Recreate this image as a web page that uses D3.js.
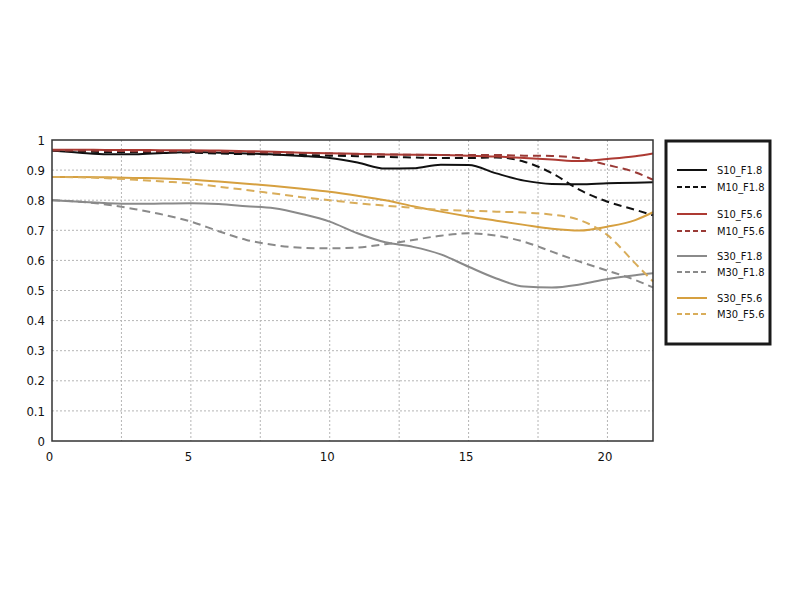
<!DOCTYPE html>
<html>
<head>
<meta charset="utf-8">
<script src="https://cdn.jsdelivr.net/npm/d3@7"></script>
<style>
    body { margin: 0; background: #fff; }
    svg text { font-family: "Liberation Sans Narrow", "DejaVu Sans Condensed", Roboto, sans-serif; fill: #111; }
</style>
</head>
<body>
<div id="chart-area"></div>
<script>
// sample positions (mm from centre)
const xs = [0, 1, 2, 3, 4, 5, 6, 7, 8, 9, 10, 11, 12, 13, 14, 15, 16, 17, 18, 19, 20, 21, 21.64];

const s10f18 = [0.965, 0.958, 0.953, 0.953, 0.957, 0.960, 0.958, 0.955, 0.952, 0.947, 0.940, 0.925, 0.905, 0.906, 0.918, 0.917, 0.889, 0.865, 0.854, 0.853, 0.856, 0.858, 0.860];
const m10f18 = [0.965, 0.962, 0.960, 0.960, 0.960, 0.958, 0.955, 0.953, 0.952, 0.950, 0.948, 0.946, 0.944, 0.942, 0.940, 0.940, 0.942, 0.928, 0.890, 0.834, 0.795, 0.768, 0.750];
const s10f56 = [0.968, 0.968, 0.967, 0.967, 0.966, 0.966, 0.965, 0.963, 0.961, 0.958, 0.956, 0.954, 0.952, 0.951, 0.950, 0.948, 0.945, 0.940, 0.935, 0.930, 0.937, 0.946, 0.955];
const m10f56 = [0.965, 0.965, 0.964, 0.963, 0.963, 0.962, 0.961, 0.960, 0.958, 0.957, 0.955, 0.953, 0.952, 0.951, 0.950, 0.950, 0.950, 0.948, 0.947, 0.939, 0.917, 0.893, 0.868];
const s30f18 = [0.800, 0.795, 0.790, 0.788, 0.789, 0.790, 0.787, 0.780, 0.773, 0.754, 0.729, 0.690, 0.660, 0.645, 0.620, 0.579, 0.540, 0.513, 0.510, 0.520, 0.538, 0.551, 0.557];
const m30f18 = [0.800, 0.795, 0.785, 0.770, 0.752, 0.729, 0.697, 0.668, 0.651, 0.642, 0.640, 0.643, 0.654, 0.668, 0.682, 0.690, 0.682, 0.662, 0.629, 0.596, 0.566, 0.535, 0.510];
const s30f56 = [0.877, 0.877, 0.876, 0.874, 0.872, 0.868, 0.862, 0.855, 0.847, 0.838, 0.828, 0.815, 0.800, 0.780, 0.762, 0.746, 0.732, 0.718, 0.705, 0.699, 0.712, 0.734, 0.760];
const m30f56 = [0.877, 0.876, 0.873, 0.868, 0.862, 0.856, 0.845, 0.834, 0.822, 0.810, 0.800, 0.790, 0.782, 0.775, 0.768, 0.765, 0.762, 0.759, 0.752, 0.734, 0.684, 0.590, 0.530];

const seriesNames = ["S10_F1.8", "M10_F1.8", "S10_F5.6", "M10_F5.6", "S30_F1.8", "M30_F1.8", "S30_F5.6", "M30_F5.6"];
const seriesValues = [s10f18, m10f18, s10f56, m10f56, s30f18, m30f18, s30f56, m30f56];
const seriesColors = ["#111111", "#111111", "#ad3a33", "#9a3a36", "#8a8a8a", "#8a8a8a", "#d6a040", "#d9ad5a"];
const seriesDashed = [false, true, false, true, false, true, false, true];

const xTicks = [0, 5, 10, 15, 20];
const xGrid = [2.5, 5, 7.5, 10, 12.5, 15, 17.5, 20];
const yTicks = [0, 0.1, 0.2, 0.3, 0.4, 0.5, 0.6, 0.7, 0.8, 0.9, 1];
const xMax = 21.64;

const margin = {top: 140, left: 52};
const width = 601, height = 301;

const svg = d3.select("#chart-area").append("svg")
    .attr("width", 800)
    .attr("height", 600);

const g = svg.append("g")
    .attr("transform", "translate(" + margin.left + "," + margin.top + ")");

const x = d3.scaleLinear().domain([0, xMax]).range([0, width]);
const y = d3.scaleLinear().domain([0, 1]).range([height, 0]);

// grid
g.append("g").selectAll("line")
    .data(yTicks.slice(1, -1))
    .enter().append("line")
    .attr("x1", 0).attr("x2", width)
    .attr("y1", d => y(d)).attr("y2", d => y(d))
    .attr("stroke", "#b5b5b5")
    .attr("stroke-width", 1)
    .attr("stroke-dasharray", "2,2");

g.append("g").selectAll("line")
    .data(xGrid)
    .enter().append("line")
    .attr("x1", d => x(d)).attr("x2", d => x(d))
    .attr("y1", 0).attr("y2", height)
    .attr("stroke", "#b5b5b5")
    .attr("stroke-width", 1)
    .attr("stroke-dasharray", "2,2");

// axes (labels only, border drawn separately)
const yAxis = g.append("g")
    .call(d3.axisLeft(y).tickValues(yTicks).tickFormat(d3.format("~g")).tickSize(0).tickPadding(7));
yAxis.select(".domain").remove();
yAxis.selectAll("text").attr("font-size", 13).attr("fill", "#111");

const xAxis = g.append("g")
    .attr("transform", "translate(0," + height + ")")
    .call(d3.axisBottom(x).tickValues(xTicks).tickSize(0).tickPadding(11));
xAxis.select(".domain").remove();
xAxis.selectAll("text").attr("font-size", 13).attr("fill", "#111").attr("dx", -3);

// lines
const line = d3.line()
    .curve(d3.curveMonotoneX)
    .x((d, i) => x(xs[i]))
    .y(d => y(d));

g.append("g").selectAll("path")
    .data(seriesValues)
    .enter().append("path")
    .attr("d", d => line(d))
    .attr("fill", "none")
    .attr("stroke", (d, i) => seriesColors[i])
    .attr("stroke-width", 2)
    .attr("stroke-dasharray", (d, i) => seriesDashed[i] ? "8,5" : null);

// plot border
g.append("rect")
    .attr("width", width)
    .attr("height", height)
    .attr("fill", "none")
    .attr("stroke", "#333")
    .attr("stroke-width", 1.5);

// legend
const legend = svg.append("g")
    .attr("transform", "translate(666,141)");

legend.append("rect")
    .attr("width", 104)
    .attr("height", 203)
    .attr("fill", "#fff")
    .attr("stroke", "#1a1a1a")
    .attr("stroke-width", 3);

const legendY = [29, 46, 73, 90, 115, 131, 157, 173];

const items = legend.selectAll(".legend-item")
    .data(seriesNames)
    .enter().append("g")
    .attr("class", "legend-item")
    .attr("transform", (d, i) => "translate(0," + legendY[i] + ")");

items.append("line")
    .attr("x1", 11).attr("x2", 41)
    .attr("y1", 0).attr("y2", 0)
    .attr("stroke", (d, i) => seriesColors[i])
    .attr("stroke-width", 2)
    .attr("stroke-dasharray", (d, i) => seriesDashed[i] ? "5,3" : null);

items.append("text")
    .attr("x", 51)
    .attr("y", 4)
    .attr("font-size", 11)
    .text(d => d);
</script>
</body>
</html>
